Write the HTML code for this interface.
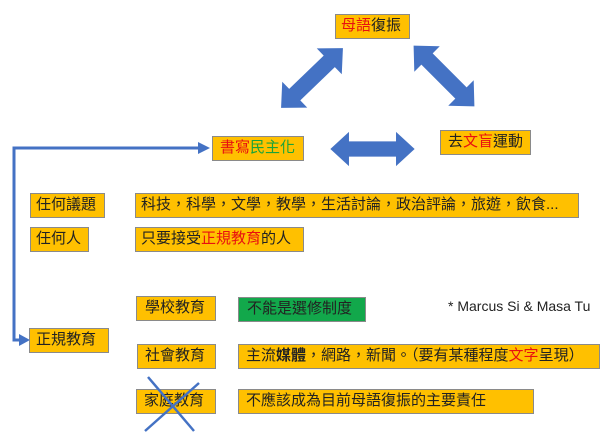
<!DOCTYPE html>
<html><head><meta charset="utf-8"><style>
html,body{margin:0;padding:0;background:#fff;}
body{width:600px;height:435px;position:relative;overflow:hidden;font-family:"Liberation Sans","Noto Sans CJK TC",sans-serif;}
.b{position:absolute;background:#ffc000;border:1px solid #8a8a8a;box-sizing:border-box;font-size:15px;line-height:22px;color:#222;white-space:nowrap;padding-left:5px;}
.r{color:#e81010}.g{color:#1aa33a}
svg{position:absolute;left:0;top:0}
</style></head><body>
<svg width="600" height="435">
<defs>
<polygon id="da" points="-43,0 -24,-18 -24,-8 24,-8 24,-18 43,0 24,18 24,8 -24,8 -24,18" fill="#4472c4"/>
</defs>
<use href="#da" transform="translate(312,78) rotate(-44)"/>
<use href="#da" transform="translate(444,76) rotate(45)"/>
<use href="#da" transform="translate(372.5,149) scale(0.98,0.95)"/>
<polyline points="199,148 14,148 14,340 22,340" fill="none" stroke="#4472c4" stroke-width="3"/>
<polygon points="210,148 198,142 198,154" fill="#4472c4"/>
<polygon points="30,340 19,334 19,346" fill="#4472c4"/>
</svg>
<div class="b" style="left:335px;top:14px;width:75px;height:25px;"><span class="r">母語</span>復振</div>
<div class="b" style="left:212px;top:136px;width:92px;height:25px;padding-left:7px;"><span class="r">書寫</span><span class="g">民主化</span></div>
<div class="b" style="left:440px;top:130px;width:91px;height:25px;padding-left:7px;">去<span class="r">文盲</span>運動</div>
<div class="b" style="left:30px;top:193px;width:75px;height:25px;">任何議題</div>
<div class="b" style="left:135px;top:193px;width:444px;height:25px;">科技，科學，文學，教學，生活討論，政治評論，旅遊，飲食...</div>
<div class="b" style="left:30px;top:227px;width:59px;height:25px;">任何人</div>
<div class="b" style="left:135px;top:227px;width:169px;height:25px;">只要接受<span class="r">正規教育</span>的人</div>
<div class="b" style="left:136px;top:296px;width:80px;height:25px;padding-left:8px;">學校教育</div>
<div class="b" style="left:238px;top:297px;width:128px;height:25px;background:#12a84b;padding-left:8px;">不能是選修制度</div>
<div style="position:absolute;left:448px;top:298px;font-size:14px;color:#222;white-space:nowrap;">* Marcus Si &amp; Masa Tu</div>
<div class="b" style="left:29px;top:328px;width:80px;height:25px;padding-left:6px;">正規教育</div>
<div class="b" style="left:137px;top:344px;width:79px;height:25px;padding-left:7px;">社會教育</div>
<div class="b" style="left:238px;top:344px;width:362px;height:25px;padding-left:7px;">主流<b>媒體</b>，網路，新聞。（要有某種程度<span class="r">文字</span>呈現）</div>
<div class="b" style="left:136px;top:389px;width:80px;height:25px;padding-left:7px;">家庭教育</div>
<div class="b" style="left:238px;top:389px;width:296px;height:25px;padding-left:7px;">不應該成為目前母語復振的主要責任</div>
<svg width="600" height="435">
<line x1="148" y1="377" x2="194" y2="431" stroke="#4472c4" stroke-width="2.5"/>
<line x1="199" y1="383" x2="145" y2="431" stroke="#4472c4" stroke-width="2.5"/>
</svg>
</body></html>
